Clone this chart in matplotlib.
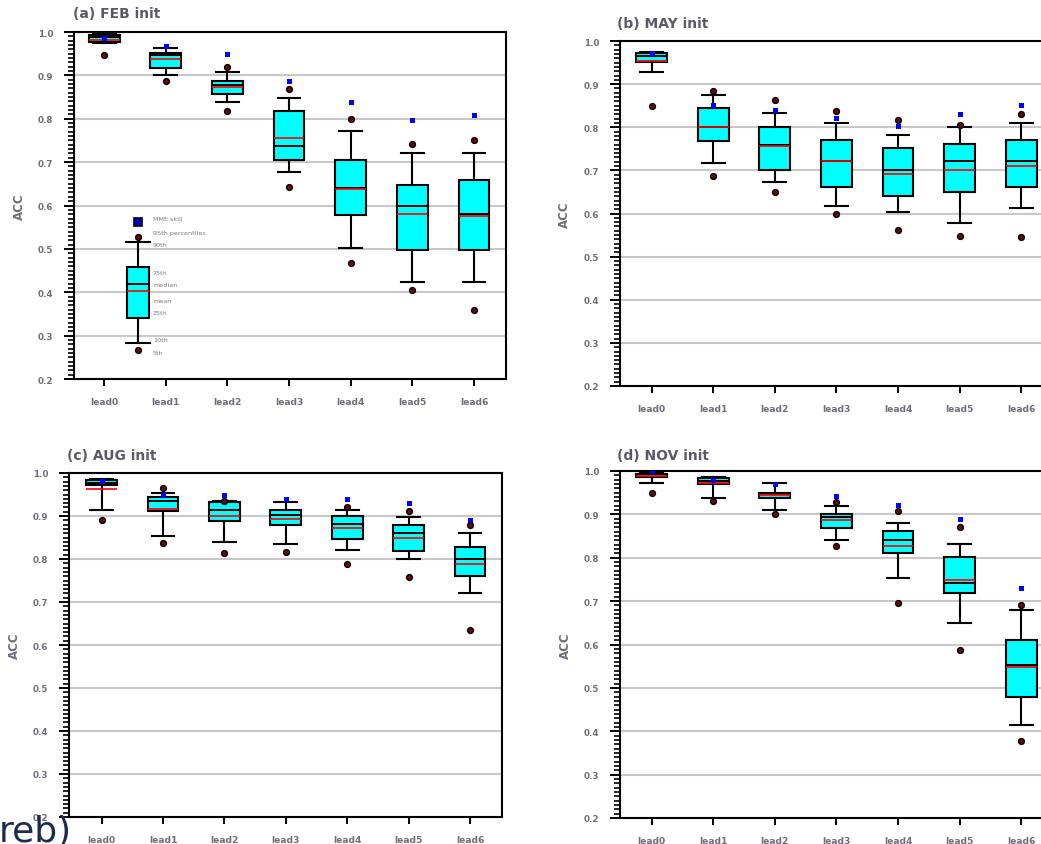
import numpy as np
import matplotlib.pyplot as plt
from matplotlib.ticker import MultipleLocator

nan = np.nan
leads = ["lead0", "lead1", "lead2", "lead3", "lead4", "lead5", "lead6"]
titles = ["(a) FEB init", "(b) MAY init", "(c) AUG init", "(d) NOV init"]

# percentiles of ACC per lead (5th, 10th, 25th, median, mean, 75th, 90th, 95th) and MME skill
feb_p5 = [0.946, 0.888, 0.818, 0.642, 0.468, 0.406, 0.360]
feb_p10 = [0.975, 0.902, 0.838, 0.678, 0.502, 0.423, 0.423]
feb_p25 = [0.978, 0.917, 0.858, 0.706, 0.579, 0.498, 0.498]
feb_med = [0.988, 0.946, 0.878, 0.738, 0.640, 0.600, 0.581]
feb_mean = [0.981, 0.937, 0.873, 0.756, 0.638, 0.581, 0.575]
feb_p75 = [0.992, 0.952, 0.888, 0.819, 0.706, 0.648, 0.658]
feb_p90 = [0.995, 0.962, 0.908, 0.848, 0.771, 0.722, 0.722]
feb_p95 = [nan, nan, 0.919, 0.869, 0.800, 0.741, 0.751]
feb_mme = [0.987, 0.968, 0.949, 0.888, 0.838, 0.798, 0.809]

may_p5 = [0.849, 0.686, 0.649, 0.599, 0.562, 0.547, 0.545]
may_p10 = [0.928, 0.717, 0.672, 0.618, 0.604, 0.579, 0.613]
may_p25 = [0.951, 0.769, 0.701, 0.661, 0.641, 0.651, 0.661]
may_med = [0.965, 0.800, 0.759, 0.721, 0.702, 0.721, 0.721]
may_mean = [0.953, 0.800, 0.756, 0.721, 0.692, 0.702, 0.711]
may_p75 = [0.973, 0.845, 0.800, 0.771, 0.751, 0.761, 0.771]
may_p90 = [0.975, 0.874, 0.833, 0.810, 0.781, 0.800, 0.810]
may_p95 = [nan, 0.884, 0.864, 0.837, 0.816, 0.806, 0.831]
may_mme = [0.973, 0.851, 0.841, 0.822, 0.802, 0.831, 0.851]

aug_p5 = [0.890, 0.838, 0.814, 0.816, 0.788, 0.758, 0.636]
aug_p10 = [0.913, 0.854, 0.840, 0.834, 0.820, 0.800, 0.721]
aug_p25 = [0.971, 0.912, 0.888, 0.878, 0.847, 0.819, 0.760]
aug_med = [0.977, 0.935, 0.915, 0.902, 0.882, 0.860, 0.799]
aug_mean = [0.962, 0.917, 0.899, 0.894, 0.873, 0.849, 0.789]
aug_p75 = [0.983, 0.944, 0.933, 0.913, 0.899, 0.880, 0.829]
aug_p90 = [0.985, 0.953, 0.935, 0.933, 0.913, 0.898, 0.860]
aug_p95 = [nan, 0.964, 0.936, nan, 0.921, 0.912, 0.878]
aug_mme = [0.981, 0.950, 0.950, 0.940, 0.940, 0.930, 0.891]

nov_p5 = [0.950, 0.931, 0.900, 0.828, 0.696, 0.588, 0.377]
nov_p10 = [0.972, 0.938, 0.909, 0.840, 0.753, 0.650, 0.415]
nov_p25 = [0.986, 0.971, 0.938, 0.869, 0.811, 0.718, 0.478]
nov_med = [0.992, 0.978, 0.948, 0.894, 0.842, 0.742, 0.552]
nov_mean = [0.988, 0.972, 0.944, 0.886, 0.826, 0.748, 0.549]
nov_p75 = [0.994, 0.984, 0.949, 0.900, 0.861, 0.802, 0.611]
nov_p90 = [0.996, 0.986, 0.973, 0.920, 0.880, 0.831, 0.680]
nov_p95 = [nan, nan, nan, 0.928, 0.908, 0.872, 0.692]
nov_mme = [1.000, 0.980, 0.970, 0.942, 0.922, 0.890, 0.731]

# example box used as a key in panel (a)
key_stats = [0.268, 0.282, 0.340, 0.419, 0.404, 0.458, 0.517, 0.528]
key_mme = 0.563
key_labels = ["MME skill", "95th percentiles", "90th", "75th", "median",
              "mean", "25th", "10th", "5th"]
key_label_y = [0.571, 0.538, 0.509, 0.446, 0.417, 0.382, 0.354, 0.291, 0.262]

panels = [
    (feb_p5, feb_p10, feb_p25, feb_med, feb_mean, feb_p75, feb_p90, feb_p95, feb_mme),
    (may_p5, may_p10, may_p25, may_med, may_mean, may_p75, may_p90, may_p95, may_mme),
    (aug_p5, aug_p10, aug_p25, aug_med, aug_mean, aug_p75, aug_p90, aug_p95, aug_mme),
    (nov_p5, nov_p10, nov_p25, nov_med, nov_mean, nov_p75, nov_p90, nov_p95, nov_mme),
]

W, H = 1041, 845
# axes rectangles in pixels: left, top, width, height
rects = [(74, 33, 432, 347), (620, 42, 432, 345), (69, 474, 433, 344), (620, 472, 432, 347)]
xlims = [(-0.49, 6.52), (-0.515, 6.5), (-0.53, 6.52), (-0.515, 6.5)]
title_pos = [(73, 14), (617, 24), (67, 456), (617, 456)]
ylab_x = [19, 564, 14, 565]

gray = "#6e6e7a"


def make_stats(p5, p10, p25, med, mean, p75, p90, p95):
    fl = [v for v in (p5, p95) if not np.isnan(v)]
    return dict(whislo=p10, q1=p25, med=med, mean=mean, q3=p75, whishi=p90, fliers=fl)


def draw_boxes(ax, stats, pos, width, capw):
    ax.bxp(stats, positions=pos, widths=width, capwidths=capw,
           patch_artist=True, showmeans=True, meanline=True, manage_ticks=False,
           boxprops=dict(facecolor="#00ffff", edgecolor="black", linewidth=1.5),
           whiskerprops=dict(color="black", linewidth=1.5),
           capprops=dict(color="black", linewidth=1.5),
           medianprops=dict(color="black", linewidth=1.4),
           meanprops=dict(color="red", linewidth=1.2, linestyle="-"),
           flierprops=dict(marker="o", markerfacecolor="#6a0a0a",
                           markeredgecolor="black", markersize=4.2),
           zorder=3)


fig = plt.figure(figsize=(W / 100, H / 100), dpi=100)

for k, data in enumerate(panels):
    l, t, w, h = rects[k]
    ax = fig.add_axes([l / W, 1 - (t + h) / H, w / W, h / H])
    mme = data[8]
    stats = [make_stats(*[s[i] for s in data[:8]]) for i in range(len(leads))]
    x = np.arange(len(leads))
    draw_boxes(ax, stats, x, 0.5, 0.37)
    ax.plot(x, mme, "s", color="#0000ff", markersize=3.6, markeredgewidth=0, zorder=5)

    if k == 0:
        kx = 0.55
        draw_boxes(ax, [make_stats(*key_stats)], [kx], 0.37, 0.38)
        ax.plot([kx], [key_mme], "s", markerfacecolor="#0000cc", markeredgecolor="black",
                markersize=6, markeredgewidth=1.2, zorder=5)
        for lab, yy in zip(key_labels, key_label_y):
            ax.text(0.79, yy, lab, fontsize=4.6, color="#7a7a88", va="center", ha="left")

    ax.set_xlim(*xlims[k])
    ax.set_ylim(0.2, 1.0)
    ax.set_xticks(x)
    ax.set_xticklabels(leads, fontsize=6.6, color=gray, fontweight="bold")
    ax.set_yticks(np.arange(0.2, 1.01, 0.1))
    ax.set_yticklabels([f"{v:.1f}" for v in np.arange(0.2, 1.01, 0.1)],
                       fontsize=6.3, color=gray, fontweight="bold")
    ax.yaxis.set_minor_locator(MultipleLocator(0.01))
    ax.tick_params(axis="y", which="major", direction="out", length=7, width=1.4, pad=8)
    ax.tick_params(axis="y", which="minor", direction="out", length=4.5, width=1.2)
    ax.tick_params(axis="x", which="major", direction="out", length=5, width=1.4, pad=8)
    ax.grid(axis="y", color="#c8c8c8", linewidth=1.5)
    ax.set_axisbelow(True)
    for s in ax.spines.values():
        s.set_linewidth(1.5)
        s.set_color("black")

    tx, ty = title_pos[k]
    fig.text(tx / W, 1 - ty / H, titles[k], fontsize=10, color="#5a5a66",
             fontweight="bold", va="center", ha="left")
    fig.text(ylab_x[k] / W, 1 - (t + h / 2) / H, "ACC", rotation=90, fontsize=8.5,
             color=gray, fontweight="bold", va="center", ha="center")

# fragment of the surrounding document, cut by the screenshot
fig.text(-0.001, 3 / H, "reb)", fontsize=26, color="#1c2b4c", ha="left", va="baseline")

fig.savefig("out.png", dpi=100)
